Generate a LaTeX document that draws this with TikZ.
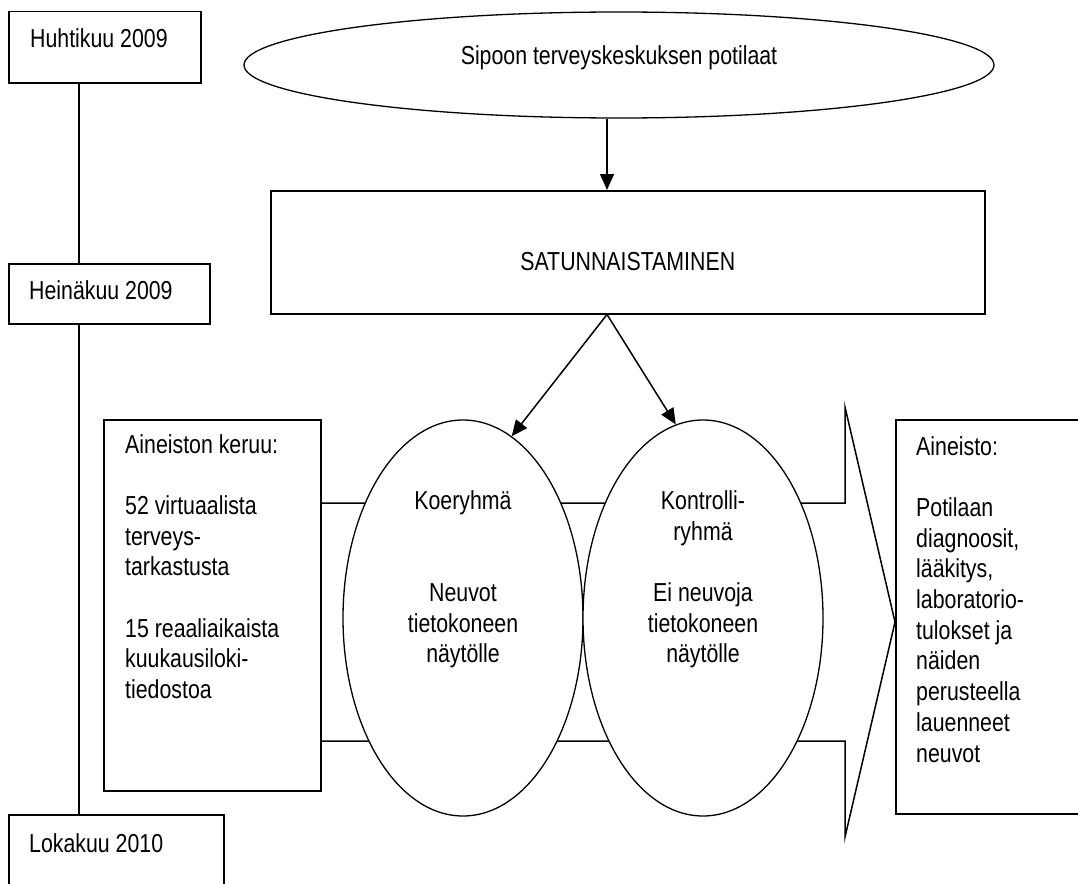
\documentclass[tikz,border=0pt]{standalone}
\usepackage{fontspec}
\setmainfont{Liberation Sans}[FakeStretch=0.82]
\usetikzlibrary{shapes.geometric,arrows.meta,calc}

\begin{document}
\begin{tikzpicture}[x=1pt,y=-1pt,
  box/.style={draw,line width=1.5pt,fill=white,rectangle,inner sep=0pt,anchor=north west},
  oval/.style={draw,line width=1.3pt,fill=white,ellipse,inner sep=0pt},
  txt/.style={inner sep=0pt,font=\fontsize{26}{30.7}\selectfont},
  conn/.style={line width=1.5pt},
  arr/.style={line width=1.5pt,-{Triangle[length=16pt,width=14pt]}},
]
\useasboundingbox (0,0) rectangle (1078,883);
\clip (0,0) rectangle (1078,883);

% time line on the left
\node[box,minimum width=192,minimum height=71] (huhti) at (8,11) {};
\node[txt,anchor=base west] at ($(huhti.north west)+(22,37)$) {Huhtikuu 2009};
\node[box,minimum width=201,minimum height=60] (heina) at (8,263) {};
\node[txt,anchor=base west] at ($(heina.north west)+(21,36)$) {Heinäkuu 2009};
\node[box,minimum width=215,minimum height=90] (loka) at (8,814) {};
\node[txt,anchor=base west] at ($(loka.north west)+(21,38)$) {Lokakuu 2010};
\coordinate (tl) at (79,0);
\draw[conn] (huhti.south -| tl) -- (heina.north -| tl);
\draw[conn] (heina.south -| tl) -- (loka.north -| tl);

% patients and randomisation
\node[oval,minimum width=750,minimum height=106] (pot) at (619,65) {};
\node[txt,anchor=base] at (pot.center) {Sipoon terveyskeskuksen potilaat};
\node[box,minimum width=714,minimum height=123] (sat) at (270,190) {};
\node[txt,anchor=base] at ($(sat.center)+(0,18.5)$) {SATUNNAISTAMINEN};
\coordinate (ax) at (607,0);
\draw[arr] (pot.south -| ax) -- (sat.north -| ax);

% broad block arrow behind the groups
\draw[line width=1.5pt,fill=white] (319,503) -- (845,503) -- (845,407) -- (895,622)
  -- (845,837) -- (845,741) -- (319,741) -- cycle;

% data collection
\node[box,minimum width=217,minimum height=371] (keruu) at (103,419) {};
\node[txt,anchor=base west,text width=190,align=flush left] at ($(keruu.north west)+(22,34)$)
  {Aineiston keruu:\\[\baselineskip]52 virtuaalista\\terveys-\\tarkastusta\\[\baselineskip]15 reaaliaikaista\\kuukausiloki-\\tiedostoa};

% resulting data
\node[box,minimum width=220,minimum height=394] (aineisto) at (895,419) {};
\node[txt,anchor=base west,text width=170,align=flush left] at ($(aineisto.north west)+(21,36)$)
  {Aineisto:\\[\baselineskip]Potilaan\\diagnoosit,\\lääkitys,\\laboratorio-\\tulokset ja\\näiden\\perusteella\\lauenneet\\neuvot};

% the two groups
\node[oval,minimum width=240,minimum height=396] (koe) at (463,618) {};
\node[txt,anchor=base,text width=220,align=flush center] at ($(koe.north)+(0,90)$)
  {Koeryhmä\\[2\baselineskip]Neuvot\\tietokoneen\\näytölle};
\node[oval,minimum width=240,minimum height=396] (kon) at (703,618) {};
\node[txt,anchor=base,text width=220,align=flush center] at ($(kon.north)+(0,90)$)
  {Kontrolli-\\ryhmä\\[\baselineskip]Ei neuvoja\\tietokoneen\\näytölle};

\coordinate (split) at (sat.south -| ax);
\draw[arr] (split) -- (koe.75);
\draw[arr] (split) -- (kon.98);
\end{tikzpicture}
\end{document}
